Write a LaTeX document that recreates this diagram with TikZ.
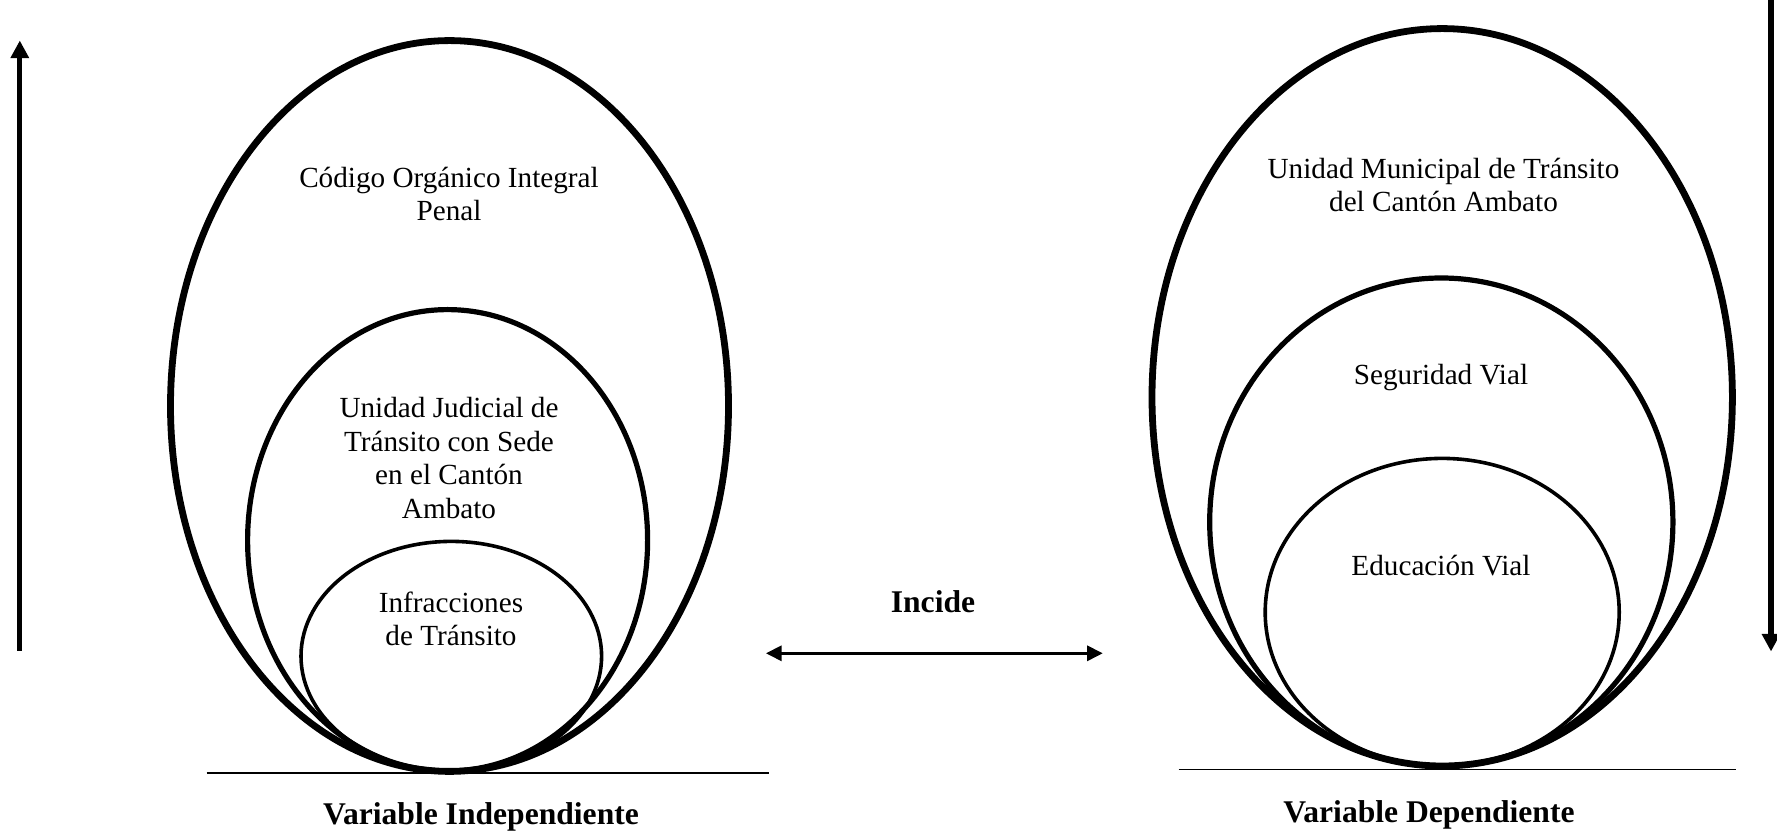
\documentclass[tikz,border=0pt]{standalone}
\usepackage{fontspec}
\setmainfont{Liberation Serif}
\usetikzlibrary{arrows.meta}
\begin{document}
\begin{tikzpicture}[x=0.5pt,y=0.5pt,
  ovalA/.style={line width=3.4pt},
  ovalB/.style={line width=2.6pt},
  ovalC/.style={line width=1.8pt},
  groundline/.style={line width=0.6pt},
  bigarrow/.style={line width=2.6pt,-{Triangle[length=8.8pt,width=8.8pt]}},
  midarrow/.style={line width=1.3pt,{Triangle[length=7.8pt,width=7.6pt]}-{Triangle[length=7.8pt,width=7.6pt]}},
  txt/.style={font=\fontsize{14.6pt}{16.8pt}\selectfont,align=center,inner sep=0pt},
  bold/.style={font=\fontsize{15.8pt}{18pt}\selectfont\bfseries,inner sep=0pt}]
\useasboundingbox (0,0) rectangle (1777,835);
% left group
\draw[ovalA] (449.5,429) ellipse [x radius=279, y radius=365.4];
\draw[ovalB] (447.6,294.7) ellipse [x radius=200, y radius=230.7];
\draw[ovalC] (451.3,178.8) ellipse [x radius=150.3, y radius=114.8];
\coordinate (gl1) at (206.6,62);
\coordinate (gl2) at (769,62);
\draw[groundline] (gl1) -- (gl2);
\node[txt] (coip) at (449,641) {Código Orgánico Integral\\Penal};
\node[txt] (ujt) at (449,377) {Unidad Judicial de\\Tránsito con Sede\\en el Cantón\\Ambato};
\node[txt] (inf) at (451,216) {Infracciones\\de Tránsito};
\node[bold] (vi) at (481,18) {Variable Independiente};
% right group
\draw[ovalA] (1442.2,437.7) ellipse [x radius=290.2, y radius=368.7];
\draw[ovalB] (1441.3,313) ellipse [x radius=231.6, y radius=244];
\draw[ovalC] (1442.2,222.8) ellipse [x radius=177, y radius=153.8];
\coordinate (gr1) at (1178.6,65.5);
\coordinate (gr2) at (1736,65.5);
\draw[groundline] (gr1) -- (gr2);
\node[txt] (umt) at (1443.5,650) {Unidad Municipal de Tránsito\\del Cantón Ambato};
\node[txt] (sv) at (1441,457) {Seguridad Vial};
\node[txt] (ev) at (1441,269) {Educación Vial};
\node[bold] (vd) at (1429,20) {Variable Dependiente};
% center
\node[bold] (inc) at (933,233) {Incide};
\coordinate (ca) at (766,181.7);
\coordinate (cb) at (1102.7,181.7);
\draw[midarrow] (ca) -- (cb);
% side arrows
\coordinate (la1) at (19.8,184);
\coordinate (la2) at (19.8,794.5);
\draw[bigarrow] (la1) -- (la2);
\coordinate (ra1) at (1771,836);
\coordinate (ra2) at (1771,183.5);
\draw[bigarrow] (ra1) -- (ra2);
\end{tikzpicture}
\end{document}
